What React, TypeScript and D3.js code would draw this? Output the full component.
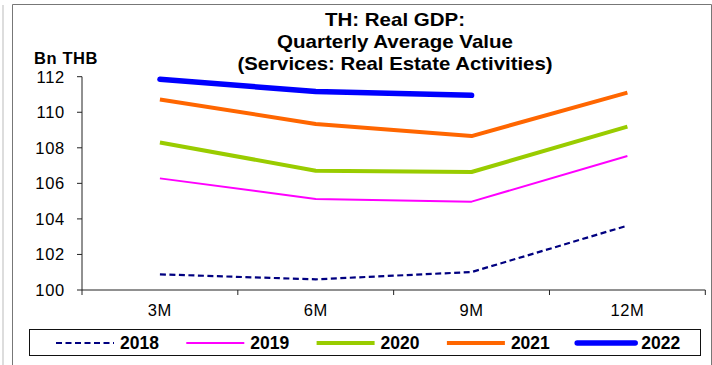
import React from "react";
import * as d3 from "d3";

const categories = ["3M", "6M", "9M", "12M"];
const seriesNames = ["2018", "2019", "2020", "2021", "2022"];
const values2018 = [100.88, 100.6, 101.01, 103.62];
const values2019 = [106.28, 105.12, 104.97, 107.54];
const values2020 = [108.3, 106.71, 106.64, 109.19];
const values2021 = [110.72, 109.34, 108.66, 111.1];
const values2022: (number | null)[] = [111.85, 111.17, 110.95, null];
const yTicks = [100, 102, 104, 106, 108, 110, 112];
const titleLines = ["TH: Real GDP:", "Quarterly Average Value", "(Services: Real Estate Activities)"];
const yUnit = "Bn THB";

const styles = [
  { color: "#000080", width: 2.2, dash: "6,3.5", cap: "butt" },
  { color: "#FF00FF", width: 2, dash: null, cap: "butt" },
  { color: "#99CC00", width: 4, dash: null, cap: "butt" },
  { color: "#FF6600", width: 4, dash: null, cap: "butt" },
  { color: "#0000FF", width: 5.5, dash: null, cap: "round" },
];

const FONT = "Arial, 'Liberation Sans', Helvetica, sans-serif";

export default function App() {
  const W = 712, H = 365;
  const left = 82, right = 705.3, top = 76.7, bottom = 290;
  const x = d3.scaleBand<string>().domain(categories).range([left, right]).padding(0);
  const y = d3.scaleLinear().domain([100, 112]).range([bottom, top]);
  const data = [values2018, values2019, values2020, values2021, values2022];
  const line = d3
    .line<number | null>()
    .defined((d) => d !== null)
    .x((_, i) => (x(categories[i]) as number) + x.bandwidth() / 2)
    .y((d) => y(d as number));

  const boundaries = [...categories.map((c) => x(c) as number), right];
  const legendX0 = 56, legendStep = 130.3, legendLen = 58, legendY = 343;

  return (
    <svg width={W} height={H} style={{ position: "absolute", left: 0, top: 0, background: "#fff" }}>
      <rect x={0} y={0} width={W} height={H} fill="#fff" />
      <line x1={3} y1={5} x2={3} y2={H} stroke="#bbb" strokeWidth={1} />
      <path d={`M12.5,${H} V4.5 H711.5 V${H}`} fill="none" stroke="#777" strokeWidth={1} />
      {titleLines.map((t, i) => (
        <text
          key={t}
          x={395}
          y={25.5 + i * 22}
          textAnchor="middle"
          fontFamily={FONT}
          fontWeight="bold"
          fontSize={18.5}
          textLength={[140, 236, 315][i]}
          lengthAdjust="spacingAndGlyphs"
        >
          {t}
        </text>
      ))}
      <text x={34} y={63.5} fontFamily={FONT} fontWeight="bold" fontSize={16.5} letterSpacing={0.6}>
        {yUnit}
      </text>
      {/* y axis */}
      <line x1={left} y1={top} x2={left} y2={bottom} stroke="#222" strokeWidth={1} />
      {yTicks.map((t) => (
        <g key={t}>
          <line x1={left - 5} x2={left} y1={y(t)} y2={y(t)} stroke="#222" strokeWidth={1} />
          <text
            x={65}
            y={y(t) + 5.8}
            textAnchor="end"
            fontFamily={FONT}
            fontSize={16.5}
            letterSpacing={0.7}
          >
            {t}
          </text>
        </g>
      ))}
      {/* x axis */}
      <line x1={left} y1={bottom} x2={right} y2={bottom} stroke="#222" strokeWidth={1} />
      {boundaries.map((b, i) => (
        <line key={i} x1={b} x2={b} y1={bottom} y2={bottom + 5} stroke="#222" strokeWidth={1} />
      ))}
      {categories.map((c) => (
        <text
          key={c}
          x={(x(c) as number) + x.bandwidth() / 2}
          y={316}
          textAnchor="middle"
          fontFamily={FONT}
          fontSize={16.5}
          letterSpacing={0.6}
        >
          {c}
        </text>
      ))}
      {/* series */}
      {data.map((vals, i) => (
        <path
          key={seriesNames[i]}
          d={line(vals) || ""}
          fill="none"
          stroke={styles[i].color}
          strokeWidth={styles[i].width}
          strokeDasharray={styles[i].dash || undefined}
          strokeLinecap={styles[i].cap as any}
          strokeLinejoin="round"
        />
      ))}
      {/* legend */}
      <rect x={29.5} y={329.5} width={671} height={26} fill="#fff" stroke="#111" strokeWidth={1} />
      {seriesNames.map((s, i) => {
        const lx = legendX0 + i * legendStep;
        return (
          <g key={s}>
            <line
              x1={lx}
              x2={lx + legendLen}
              y1={legendY}
              y2={legendY}
              stroke={styles[i].color}
              strokeWidth={styles[i].width}
              strokeDasharray={styles[i].dash || undefined}
              strokeLinecap={styles[i].cap as any}
            />
            <text
              x={lx + legendLen + 6}
              y={legendY + 6.3}
              fontFamily={FONT}
              fontWeight="bold"
              fontSize={17.5}
            >
              {s}
            </text>
          </g>
        );
      })}
    </svg>
  );
}
